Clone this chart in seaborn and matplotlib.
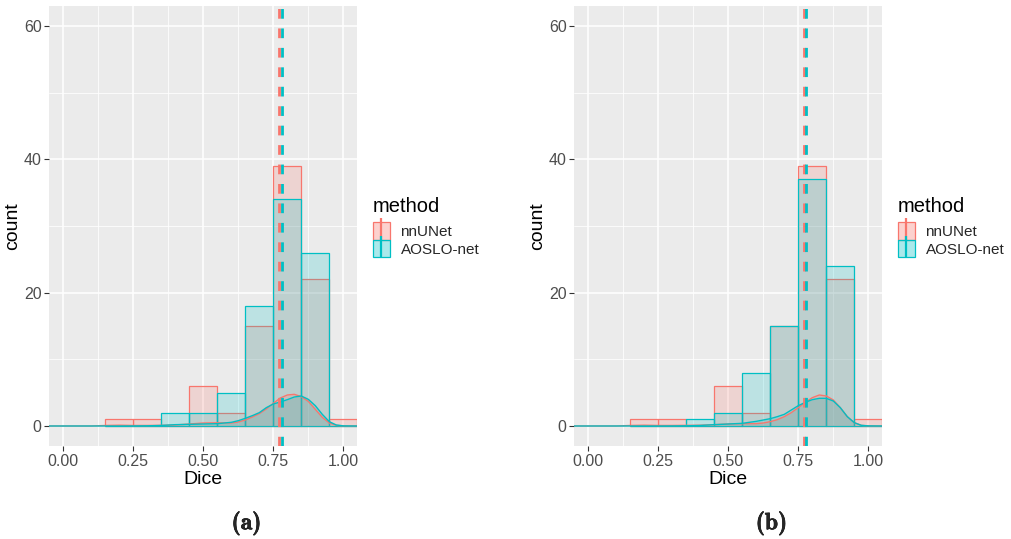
import numpy as np
import pandas as pd
import matplotlib
matplotlib.use("Agg")
import matplotlib.pyplot as plt
import matplotlib.patheffects as pe
import seaborn as sns
from matplotlib.patches import Patch
from matplotlib.lines import Line2D
from matplotlib.ticker import MultipleLocator

# ---------------- data ----------------
methods = ["nnUNet", "AOSLO-net"]
palette = ["#F8766D", "#00BFC4"]

bin_centers = [0.2, 0.3, 0.4, 0.5, 0.6, 0.7, 0.8, 0.9, 1.0]
bin_edges = [0.15, 0.25, 0.35, 0.45, 0.55, 0.65, 0.75, 0.85, 0.95, 1.05]

counts_a_nnunet = [1, 1, 0, 6, 2, 15, 39, 22, 1]
counts_a_aoslo = [0, 0, 2, 2, 5, 18, 34, 26, 0]
counts_b_nnunet = [1, 1, 0, 6, 2, 15, 39, 22, 1]
counts_b_aoslo = [0, 0, 1, 2, 8, 15, 37, 24, 0]

means_a = [0.770, 0.781]
means_b = [0.771, 0.778]

dens_x = [-0.05, 0.10, 0.15, 0.20, 0.25, 0.30, 0.35, 0.40, 0.45, 0.50, 0.55,
          0.60, 0.625, 0.65, 0.675, 0.70, 0.725, 0.75, 0.775, 0.80, 0.825,
          0.85, 0.875, 0.90, 0.925, 0.95, 0.975, 1.00, 1.05]
dens_a_nnunet = [0, 0, 0.08, 0.12, 0.08, 0.08, 0.10, 0.15, 0.30, 0.45, 0.48,
                 0.45, 0.60, 0.90, 1.35, 1.85, 2.55, 3.40, 4.20, 4.65, 4.75,
                 4.40, 3.70, 2.50, 1.30, 0.45, 0.10, 0.02, 0]
dens_a_aoslo = [0, 0, 0, 0, 0.01, 0.03, 0.08, 0.20, 0.25, 0.30, 0.35,
                0.55, 0.80, 1.15, 1.55, 2.00, 2.75, 3.30, 3.60, 3.95, 4.35,
                4.50, 4.00, 3.05, 1.75, 0.65, 0.15, 0.02, 0]
dens_b_nnunet = [0, 0, 0.08, 0.12, 0.08, 0.08, 0.10, 0.12, 0.20, 0.30, 0.35,
                 0.35, 0.45, 0.65, 0.95, 1.40, 2.00, 2.75, 3.55, 4.25, 4.65,
                 4.50, 3.90, 2.75, 1.40, 0.50, 0.10, 0.02, 0]
dens_b_aoslo = [0, 0, 0, 0, 0, 0.01, 0.03, 0.08, 0.20, 0.30, 0.40,
                0.70, 0.90, 1.10, 1.40, 1.75, 2.40, 3.05, 3.55, 3.95, 4.15,
                4.15, 3.75, 2.75, 1.40, 0.50, 0.10, 0.02, 0]

panels = [
    ("(a)", [counts_a_nnunet, counts_a_aoslo], means_a, [dens_a_nnunet, dens_a_aoslo]),
    ("(b)", [counts_b_nnunet, counts_b_aoslo], means_b, [dens_b_nnunet, dens_b_aoslo]),
]

# ---------------- style ----------------
sns.set_theme(style="darkgrid", rc={
    "axes.facecolor": "#EBEBEB",
    "grid.color": "white",
    "axes.edgecolor": "none",
})
plt.rcParams["font.family"] = ["Liberation Sans", "DejaVu Sans"]

fig = plt.figure(figsize=(10.11, 5.39), dpi=100)
W, H = 1011, 539
axes_px = [(49.3, 6, 308, 440), (574.3, 6, 308, 440)]

for (label, counts, means, dens), (lx, ty, wpx, hpx) in zip(panels, axes_px):
    ax = fig.add_axes([lx / W, (H - ty - hpx) / H, wpx / W, hpx / H])
    ax.set_axisbelow(True)
    # histograms
    for m, c, cnt in zip(methods, palette, counts):
        df = pd.DataFrame({"Dice": bin_centers, "count": cnt})
        sns.histplot(data=df, x="Dice", weights="count", bins=bin_edges,
                     color=c, edgecolor=c, alpha=0.2, linewidth=0.9,
                     ax=ax, legend=False)
    # densities
    for m, c, d in zip(methods, palette, dens):
        ax.fill_between(dens_x, d, 0, color=c, alpha=0.2, linewidth=0)
        sns.lineplot(x=dens_x, y=d, color=c, linewidth=1.0, ax=ax,
                     legend=False, sort=False)
    # mean lines
    for c, mu in zip(palette, means):
        ax.axvline(mu, color=c, linestyle=(0, (3.5, 3.5)), linewidth=2.0)

    ax.set_xlim(-0.05, 1.05)
    ax.set_ylim(-3, 63)
    ax.xaxis.set_minor_locator(MultipleLocator(0.125))
    ax.yaxis.set_major_locator(MultipleLocator(20))
    ax.yaxis.set_minor_locator(MultipleLocator(10))
    ax.set_xticks([0, 0.25, 0.5, 0.75, 1.0])
    ax.set_xticklabels(["0.00", "0.25", "0.50", "0.75", "1.00"])
    ax.grid(which="major", color="white", linewidth=1.1)
    ax.grid(which="minor", color="white", linewidth=0.55)
    ax.tick_params(which="major", length=3.5, width=0.8, color="#333333",
                   labelsize=11.5, labelcolor="#4D4D4D", pad=2, bottom=True, left=True)
    ax.tick_params(which="minor", length=0)
    for s in ax.spines.values():
        s.set_visible(False)
    ax.set_xlabel("Dice", fontsize=14, color="black", labelpad=2)
    ax.set_ylabel("count", fontsize=14, color="black", labelpad=2)

    # legend (placed to the right of each panel)
    handles = []
    for c in palette:
        p = Patch(facecolor=matplotlib.colors.to_rgba(c, 0.33), edgecolor=c, linewidth=0.9)
        ln = Line2D([], [], color=c, marker="|", linestyle="None",
                    markersize=16, markeredgewidth=1.6)
        handles.append((p, ln))
    key_x = (373 - 49.3) / wpx
    ax.text(key_x, (446 - 206) / 440, "method", transform=ax.transAxes,
            fontsize=14.5, ha="left", va="center", color="black")
    ax.legend(handles, methods, loc="upper left",
              bbox_to_anchor=(key_x, (446 - 222) / 440), frameon=False,
              fontsize=11, handlelength=1.1, handleheight=1.4,
              labelspacing=0.0, handletextpad=0.7, borderpad=0,
              borderaxespad=0)
    fig.text((lx + wpx * 0.64) / W, 1 - 523 / H, label,
             fontsize=17, fontfamily="cmb10", ha="center", va="center",
             path_effects=[pe.withStroke(linewidth=0.5, foreground="black")])

fig.savefig("out.png", dpi=100)
